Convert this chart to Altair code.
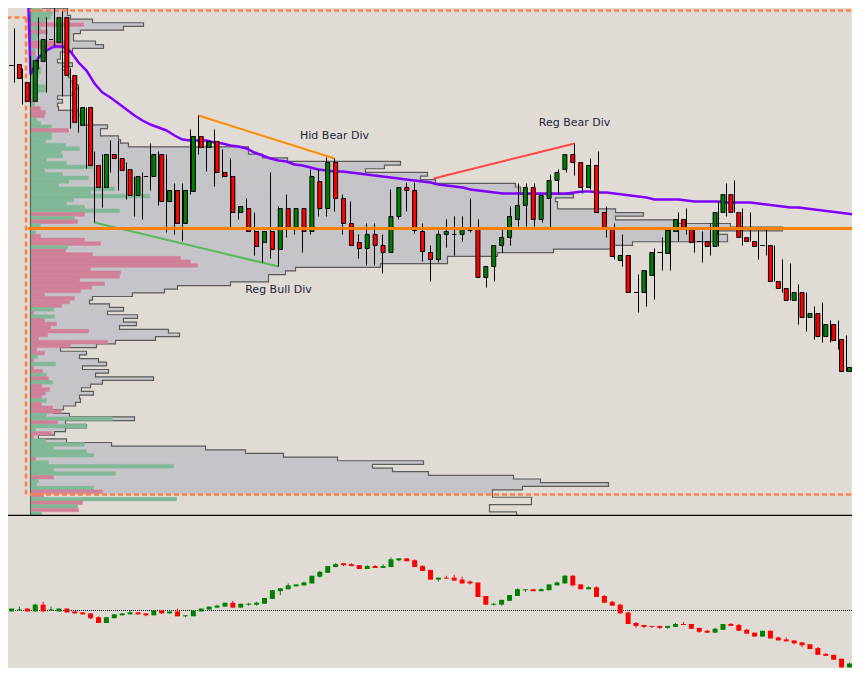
import altair as alt
import numpy as np
import pandas as pd

BG = "#E0DCD5"
UP = "#008000"
DOWN = "#FF0000"

# ---------------- price bars (main panel), one per bar ----------------
bar_open = [449, 450, 432, 413, 453, 475, 472, 497, 439, 389,
            407, 349, 327, 360, 356, 345, 319, 338, 338, 360,
            313, 324, 291, 323, 378, 367, 373, 342, 338, 302,
            306, 283, 272, 283, 265, 306, 287, 306, 283, 333,
            306, 352, 316, 291, 272, 266, 280, 269, 262, 298,
            327, 324, 283, 262, 255, 280, 280, 280, 284, 287,
            237, 248, 269, 277, 295, 309, 327, 295, 316, 334,
            345, 360, 352, 327, 349, 302, 287, 254, 259, 222,
            222, 239, 262, 261, 283, 295, 287, 273, 273, 268,
            302, 320, 302, 277, 273, 269, 269, 233, 226, 214,
            222, 197, 201, 178, 190, 175, 143]
bar_high = [475, 486, 446, 458, 497, 497, 508, 503, 446, 428,
            407, 363, 360, 374, 374, 352, 338, 342, 371, 363,
            360, 331, 331, 385, 399, 373, 385, 365, 356, 308,
            316, 302, 283, 342, 308, 320, 306, 306, 345, 345,
            357, 356, 320, 313, 280, 291, 291, 280, 325, 327,
            332, 332, 291, 269, 284, 295, 298, 298, 316, 295,
            248, 269, 285, 308, 331, 331, 331, 319, 340, 345,
            360, 371, 352, 356, 363, 308, 291, 280, 259, 240,
            244, 266, 277, 287, 302, 306, 287, 283, 291, 313,
            331, 334, 306, 302, 284, 287, 269, 255, 251, 230,
            222, 208, 212, 194, 194, 179, 165]
bar_low = [443, 432, 410, 408, 445, 422, 468, 418, 386, 382,
           346, 292, 307, 342, 324, 315, 298, 295, 324, 309,
           282, 280, 273, 320, 360, 343, 328, 337, 287, 295,
           283, 259, 252, 256, 248, 277, 280, 262, 280, 298,
           298, 303, 280, 269, 256, 249, 249, 241, 262, 295,
           303, 281, 253, 233, 252, 267, 259, 273, 282, 237,
           227, 233, 262, 269, 288, 288, 288, 292, 287, 320,
           342, 339, 321, 325, 302, 277, 255, 248, 222, 202,
           208, 215, 244, 244, 273, 280, 262, 252, 259, 268,
           298, 302, 269, 273, 255, 259, 233, 222, 214, 190,
           183, 175, 172, 172, 165, 143, 135]
bar_close = [449, 436, 413, 454, 475, 475, 497, 439, 392, 407,
             349, 327, 360, 356, 344, 319, 338, 338, 360, 313,
             324, 291, 324, 378, 367, 373, 342, 338, 302, 308,
             283, 268, 283, 265, 306, 287, 306, 283, 338, 306,
             352, 316, 291, 269, 266, 280, 269, 262, 298, 327,
             324, 284, 263, 255, 280, 283, 280, 287, 287, 237,
             248, 269, 277, 298, 309, 327, 295, 319, 334, 342,
             360, 352, 327, 349, 302, 287, 258, 259, 222, 222,
             244, 262, 262, 284, 295, 287, 272, 273, 268, 302,
             320, 302, 277, 273, 268, 269, 233, 226, 214, 222,
             197, 201, 178, 190, 174, 143, 147]

# ---------------- moving average ----------------
ma_bar = list(range(2, 108))
ma_value = [700,
            440, 457, 464, 468, 468, 463, 452, 444, 431, 422,
            417, 411, 405, 399, 394, 390, 387, 384, 379, 375,
            374, 374, 374, 372, 371, 369, 368, 366, 362, 359,
            356, 354, 353, 350, 349, 347, 345, 344, 343, 343,
            342, 341, 340, 339, 338, 337, 336, 335, 334, 333,
            332, 330, 329, 328, 327, 325, 324, 323, 322, 321,
            321, 321, 321, 321, 321, 321, 321, 321, 322, 323,
            323, 322, 322, 321, 320, 319, 318, 317, 315, 315,
            315, 315, 314, 313, 313, 313, 313, 312, 312, 312,
            312, 311, 310, 309, 308, 307, 307, 306, 305, 304,
            303, 302, 301, 300,
            298]

# ---------------- oscillator candles (lower panel) ----------------
osc_open = [-1, 0, 2, -1, 6, 0, -1, 2, -1, -2,
            -3, -7, -13, -8, -5, -4, -2, -3, -5, 0,
            -3, -1, -6, -6, -1, 1, 3, 4, 8, 3,
            6, 6, 7, 12, 20, 22, 25, 26, 28, 35,
            39, 45, 49, 48, 47, 43, 46, 44, 45, 52,
            54, 52, 46, 42, 32, 34, 34, 32, 30, 29,
            15, 6, 6, 10, 15, 21, 22, 20, 21, 26,
            28, 36, 27, 22, 24, 15, 9, 6, -2, -13,
            -15, -16, -16, -18, -17, -14, -14, -18, -21, -23,
            -20, -14, -15, -20, -23, -27, -21, -28, -30, -31,
            -33, -35, -39, -45, -46, -50, -59]
osc_high = [2, 4, 2, 7, 9, 4, 2, 2, -1, -2,
            -3, -6, -7, -4, -3, 0, -2, -3, 0, 0,
            -1, 2, -5, 0, 2, 4, 6, 8, 10, 7,
            8, 9, 13, 21, 23, 28, 27, 30, 36, 41,
            46, 49, 49, 49, 47, 47, 47, 48, 55, 54,
            54, 53, 47, 42, 34, 36, 37, 35, 31, 29,
            15, 8, 11, 16, 23, 22, 22, 23, 27, 30,
            37, 37, 27, 25, 25, 16, 10, 7, -2, -12,
            -15, -16, -16, -16, -13, -12, -14, -18, -20, -18,
            -14, -13, -14, -19, -23, -21, -21, -27, -28, -31,
            -33, -35, -38, -44, -46, -50, -54]
osc_low = [-1, 0, -1, -1, -1, 0, -1, -2, -3, -4,
           -9, -13, -13, -8, -5, -4, -4, -6, -5, -3,
           -3, -6, -7, -6, -1, 1, 3, 4, 3, 3,
           5, 5, 7, 12, 16, 22, 25, 26, 28, 34,
           39, 45, 46, 46, 43, 43, 44, 44, 45, 51,
           51, 45, 41, 32, 30, 33, 31, 28, 27, 14,
           6, 5, 5, 10, 15, 19, 20, 20, 21, 26,
           28, 25, 22, 22, 14, 8, 5, -3, -14, -18,
           -18, -18, -19, -19, -17, -15, -19, -23, -23, -23,
           -20, -16, -21, -24, -27, -27, -29, -31, -32, -35,
           -38, -40, -46, -47, -51, -59, -59]
osc_close = [2, 1, -1, 6, -1, 1, 2, -2, -3, -4,
             -8, -13, -7, -4, -3, -2, -4, -5, 0, -3,
             -1, -6, -5, 0, 2, 4, 5, 8, 3, 7,
             7, 8, 13, 21, 23, 26, 27, 29, 36, 40,
             46, 48, 47, 46, 43, 46, 44, 46, 53, 54,
             51, 45, 41, 32, 34, 33, 31, 28, 28, 14,
             6, 7, 11, 16, 22, 22, 20, 22, 27, 29,
             36, 26, 22, 24, 14, 8, 5, -3, -14, -16,
             -17, -17, -18, -16, -14, -15, -19, -22, -23, -19,
             -14, -16, -21, -24, -27, -21, -29, -31, -32, -34,
             -36, -40, -46, -47, -51, -59, -55]

# ---------------- volume profile (top row first) ----------------
profile_total = [12, 37, 37, 40, 62, 113, 93, 50, 43, 43,
                 65, 73, 42, 30, 30, 27, 42, 32, 35, 38,
                 40, 42, 48, 45, 42, 27, 32, 27, 28, 48,
                 50, 52, 53, 77, 70, 70, 88, 90, 98, 218,
                 218, 232, 257, 370, 354, 335, 397, 390, 405, 485,
                 490, 490, 543, 525, 527, 527, 585, 613, 585, 647,
                 700, 752, 687, 697, 697, 602, 582, 523, 467, 417,
                 417, 350, 265, 255, 238, 238, 200, 147, 134, 102,
                 62, 59, 79, 93, 77, 107, 93, 106, 89, 138,
                 149, 125, 85, 66, 30, 56, 49, 68, 76, 52,
                 78, 65, 123, 72, 60, 51, 63, 49, 50, 45,
                 33, 23, 39, 104, 35, 56, 35, 24, 8, 36,
                 81, 175, 215, 253, 307, 393, 342, 362, 398, 483,
                 510, 578, 492, 462, 462, 501, 501, 459, 459, 486]
# signed delta: positive = buy side (green), negative = sell side (pink)
profile_delta = [7, 10, 22, 20, 15, -53, 10, -17, 8, 6,
                 -38, -38, 5, -5, 6, 8, 7, 10, 10, 8,
                 5, 4, 15, 15, 6, 5, -3, 4, -10, -15,
                 -14, 6, 10, 21, -38, 21, 21, 15, 35, 49,
                 31, 32, 16, 36, 62, 14, 32, 58, 38, 28,
                 84, 60, 119, 43, 36, 54, 89, -54, 44, -47,
                 10, -2, 5, -10, -54, -70, 37, -35, -62, -150,
                 -160, -167, -60, -90, -89, -49, -74, -61, -50, -14,
                 -44, -39, -31, 23, -3, 24, -14, -26, -20, -58,
                 -17, -8, -77, -40, -6, -14, 7, -3, 25, -3,
                 -12, 16, -18, 22, -11, -19, -15, -11, 16, -11,
                 -22, -31, 16, 82, -27, 56, 5, -21, -3, 15,
                 54, 23, 56, 63, -5, 18, 143, 23, 85, -23,
                 8, 6, 63, -72, -13, 146, -52, 47, -48, 11]
profile_top = 510.0
profile_row = 3.65
value_area = [20.0, 505.0]

poc_price = 286
poc_from_bar = 2.7

div_names = ["Hid Bear Div", "Reg Bear Div", "Reg Bull Div"]
div_bar1 = [24, 53.4, 11]
div_price1 = [399, 336, 292]
div_bar2 = [41, 71, 34]
div_price2 = [356, 371, 248]
div_colors = ["#FF8C00", "#FF4545", "#5CB85C"]
label_bar = [41, 71, 34]
label_price = [379, 392, 225]

frame_x1 = [2.94, 2.94, -1.0, 2.44]
frame_x2 = [106.7, 106.7, 2.44, 2.44]
frame_y1 = [504, 20, 497, 497]
frame_y2 = [504, 20, 497, 20]

# ---------------- tables ----------------
bars = pd.DataFrame({"bar": np.arange(len(bar_open)), "open": bar_open, "high": bar_high,
                     "low": bar_low, "close": bar_close})
bars["top"] = bars[["open", "close"]].max(axis=1)
bars["bot"] = bars[["open", "close"]].min(axis=1)
bars["dir"] = np.select([bars.close > bars.open, bars.close < bars.open], ["up", "down"], "flat")

osc = pd.DataFrame({"bar": np.arange(len(osc_open)), "open": osc_open, "high": osc_high,
                    "low": osc_low, "close": osc_close})
osc["top"] = osc[["open", "close"]].max(axis=1)
osc["bot"] = osc[["open", "close"]].min(axis=1)
osc["dir"] = np.where(osc.close >= osc.open, "up", "down")

prof = pd.DataFrame({"row": np.arange(len(profile_total)), "total": profile_total,
                     "delta": profile_delta})
prof["p_hi"] = profile_top - profile_row * prof["row"]
prof["p_lo"] = prof["p_hi"] - profile_row
prof["mid"] = (prof["p_hi"] + prof["p_lo"]) / 2
prof["zero"] = 0.0
prof["size"] = prof["delta"].abs()
prof["side"] = np.where(prof["delta"] > 0, "buy", "sell")
va_rows = prof[(prof["mid"] >= value_area[0]) & (prof["mid"] <= value_area[1])]

ov, op = [0.0], [profile_top]
for t, hi, lo in zip(prof["total"], prof["p_hi"], prof["p_lo"]):
    ov += [t, t]
    op += [hi, lo]
ov.append(0.0)
op.append(float(prof["p_lo"].iloc[-1]))
outline = pd.DataFrame({"vol": ov, "price": op, "seq": np.arange(len(ov))})

ma = pd.DataFrame({"bar": ma_bar, "ma": ma_value})
divs = pd.DataFrame({"name": div_names, "b1": div_bar1, "p1": div_price1, "b2": div_bar2,
                     "p2": div_price2, "color": div_colors, "lb": label_bar, "lp": label_price})
frame = pd.DataFrame({"x1": frame_x1, "x2": frame_x2, "y1": frame_y1, "y2": frame_y2})
poc = pd.DataFrame({"x1": [poc_from_bar], "x2": [106.7], "p": [poc_price]})
base = pd.DataFrame({"v": [0.0], "p1": [profile_top], "p2": [-1.0]})
sep = pd.DataFrame({"x1": [0.0], "x2": [107.0], "p": [-1.0]})
zline = pd.DataFrame({"x1": [0.1875], "x2": [107.0], "v": [0.0]})

# ---------------- scales ----------------
W, H1, H2 = 844, 508, 152
xs = alt.Scale(domain=[0.1875, 105.6875], nice=False, zero=False)
vs = alt.Scale(domain=[-22.5, 821.5], nice=False, zero=False)
ps = alt.Scale(domain=[-1.5, 506.5], nice=False, zero=False)
os_ = alt.Scale(domain=[-59.6, 97.9], nice=False, zero=False)


def qx(f, s=xs):
    return alt.X(f, type="quantitative", scale=s, axis=None)


def qy(f, s=ps):
    return alt.Y(f, type="quantitative", scale=s, axis=None)


dir_color = alt.Color("dir:N", scale=alt.Scale(domain=["up", "down", "flat"],
                                               range=[UP, DOWN, UP]), legend=None)
side_scale = alt.Scale(domain=["buy", "sell"], range=["#80B898", "#D08098"])

gray = alt.Chart(va_rows).mark_rect(color="#C5C5C9", stroke="#C5C5C9", strokeWidth=0.6,
                                    clip=True).encode(
    x=qx("zero", vs), x2="total", y=qy("p_lo"), y2="p_hi")
edge = alt.Chart(outline).mark_line(color="#5C5C5C", strokeWidth=1.2, clip=True).encode(
    x=qx("vol", vs), y=qy("price"), order=alt.Order("seq:Q"))
delta = alt.Chart(prof).mark_rect(strokeWidth=0.5, clip=True).encode(
    x=qx("zero", vs), x2="size", y=qy("p_lo"), y2="p_hi",
    fill=alt.Fill("side:N", scale=side_scale, legend=None),
    stroke=alt.Stroke("side:N", scale=side_scale, legend=None))
baseline = alt.Chart(base).mark_rule(color="#4F6B5A", strokeWidth=1.2, clip=True).encode(
    x=qx("v", vs), y=qy("p1"), y2="p2")
frame_l = alt.Chart(frame).mark_rule(color="#FF7F45", strokeWidth=2.5, strokeDash=[5, 3],
                                     clip=True).encode(
    x=qx("x1"), x2="x2", y=qy("y1"), y2="y2")
ma_l = alt.Chart(ma).mark_line(color="#8000FF", strokeWidth=2.5, clip=True).encode(
    x=qx("bar"), y=qy("ma"))
div_l = alt.Chart(divs).mark_rule(strokeWidth=2, clip=True).encode(
    x=qx("b1"), x2="b2", y=qy("p1"), y2="p2", color=alt.Color("color:N", scale=None))
wick = alt.Chart(bars).mark_rule(color="black", strokeWidth=1, clip=True).encode(
    x=qx("bar"), y=qy("low"), y2="high")
body = alt.Chart(bars).mark_bar(size=4, stroke="black", strokeWidth=1, clip=True).encode(
    x=qx("bar"), y=qy("bot"), y2="top", color=dir_color)
poc_l = alt.Chart(poc).mark_rule(color="#FF8000", strokeWidth=3, clip=True).encode(
    x=qx("x1"), x2="x2", y=qy("p"))
labels = alt.Chart(divs).mark_text(font="DejaVu Sans", fontSize=11, color="#1F1F3A",
                                   align="center", baseline="middle", clip=True).encode(
    x=qx("lb"), y=qy("lp"), text="name:N")
sep_l = alt.Chart(sep).mark_rule(color="black", strokeWidth=1.5, clip=True).encode(
    x=qx("x1"), x2="x2", y=qy("p"))

main = alt.layer(gray, edge, delta, baseline, frame_l, ma_l, div_l, wick, body, poc_l,
                 labels, sep_l).resolve_scale(x="independent").properties(width=W, height=H1)

zero_l = alt.Chart(zline).mark_rule(color="black", strokeWidth=1, strokeDash=[1, 1],
                                    clip=True).encode(
    x=qx("x1"), x2="x2", y=qy("v", os_))
owick = alt.Chart(osc).mark_rule(strokeWidth=1, clip=True).encode(
    x=qx("bar"), y=qy("low", os_), y2="high", color=dir_color)
obody = alt.Chart(osc).mark_bar(size=5, clip=True).encode(
    x=qx("bar"), y=qy("bot", os_), y2="top", color=dir_color)
lower = alt.layer(zero_l, owick, obody).properties(width=W, height=H2)

chart = alt.vconcat(main, lower, spacing=0, padding=0, background=BG).configure_view(
    strokeWidth=0)

chart.save("out.html", embed_options={"renderer": "svg", "actions": False})
